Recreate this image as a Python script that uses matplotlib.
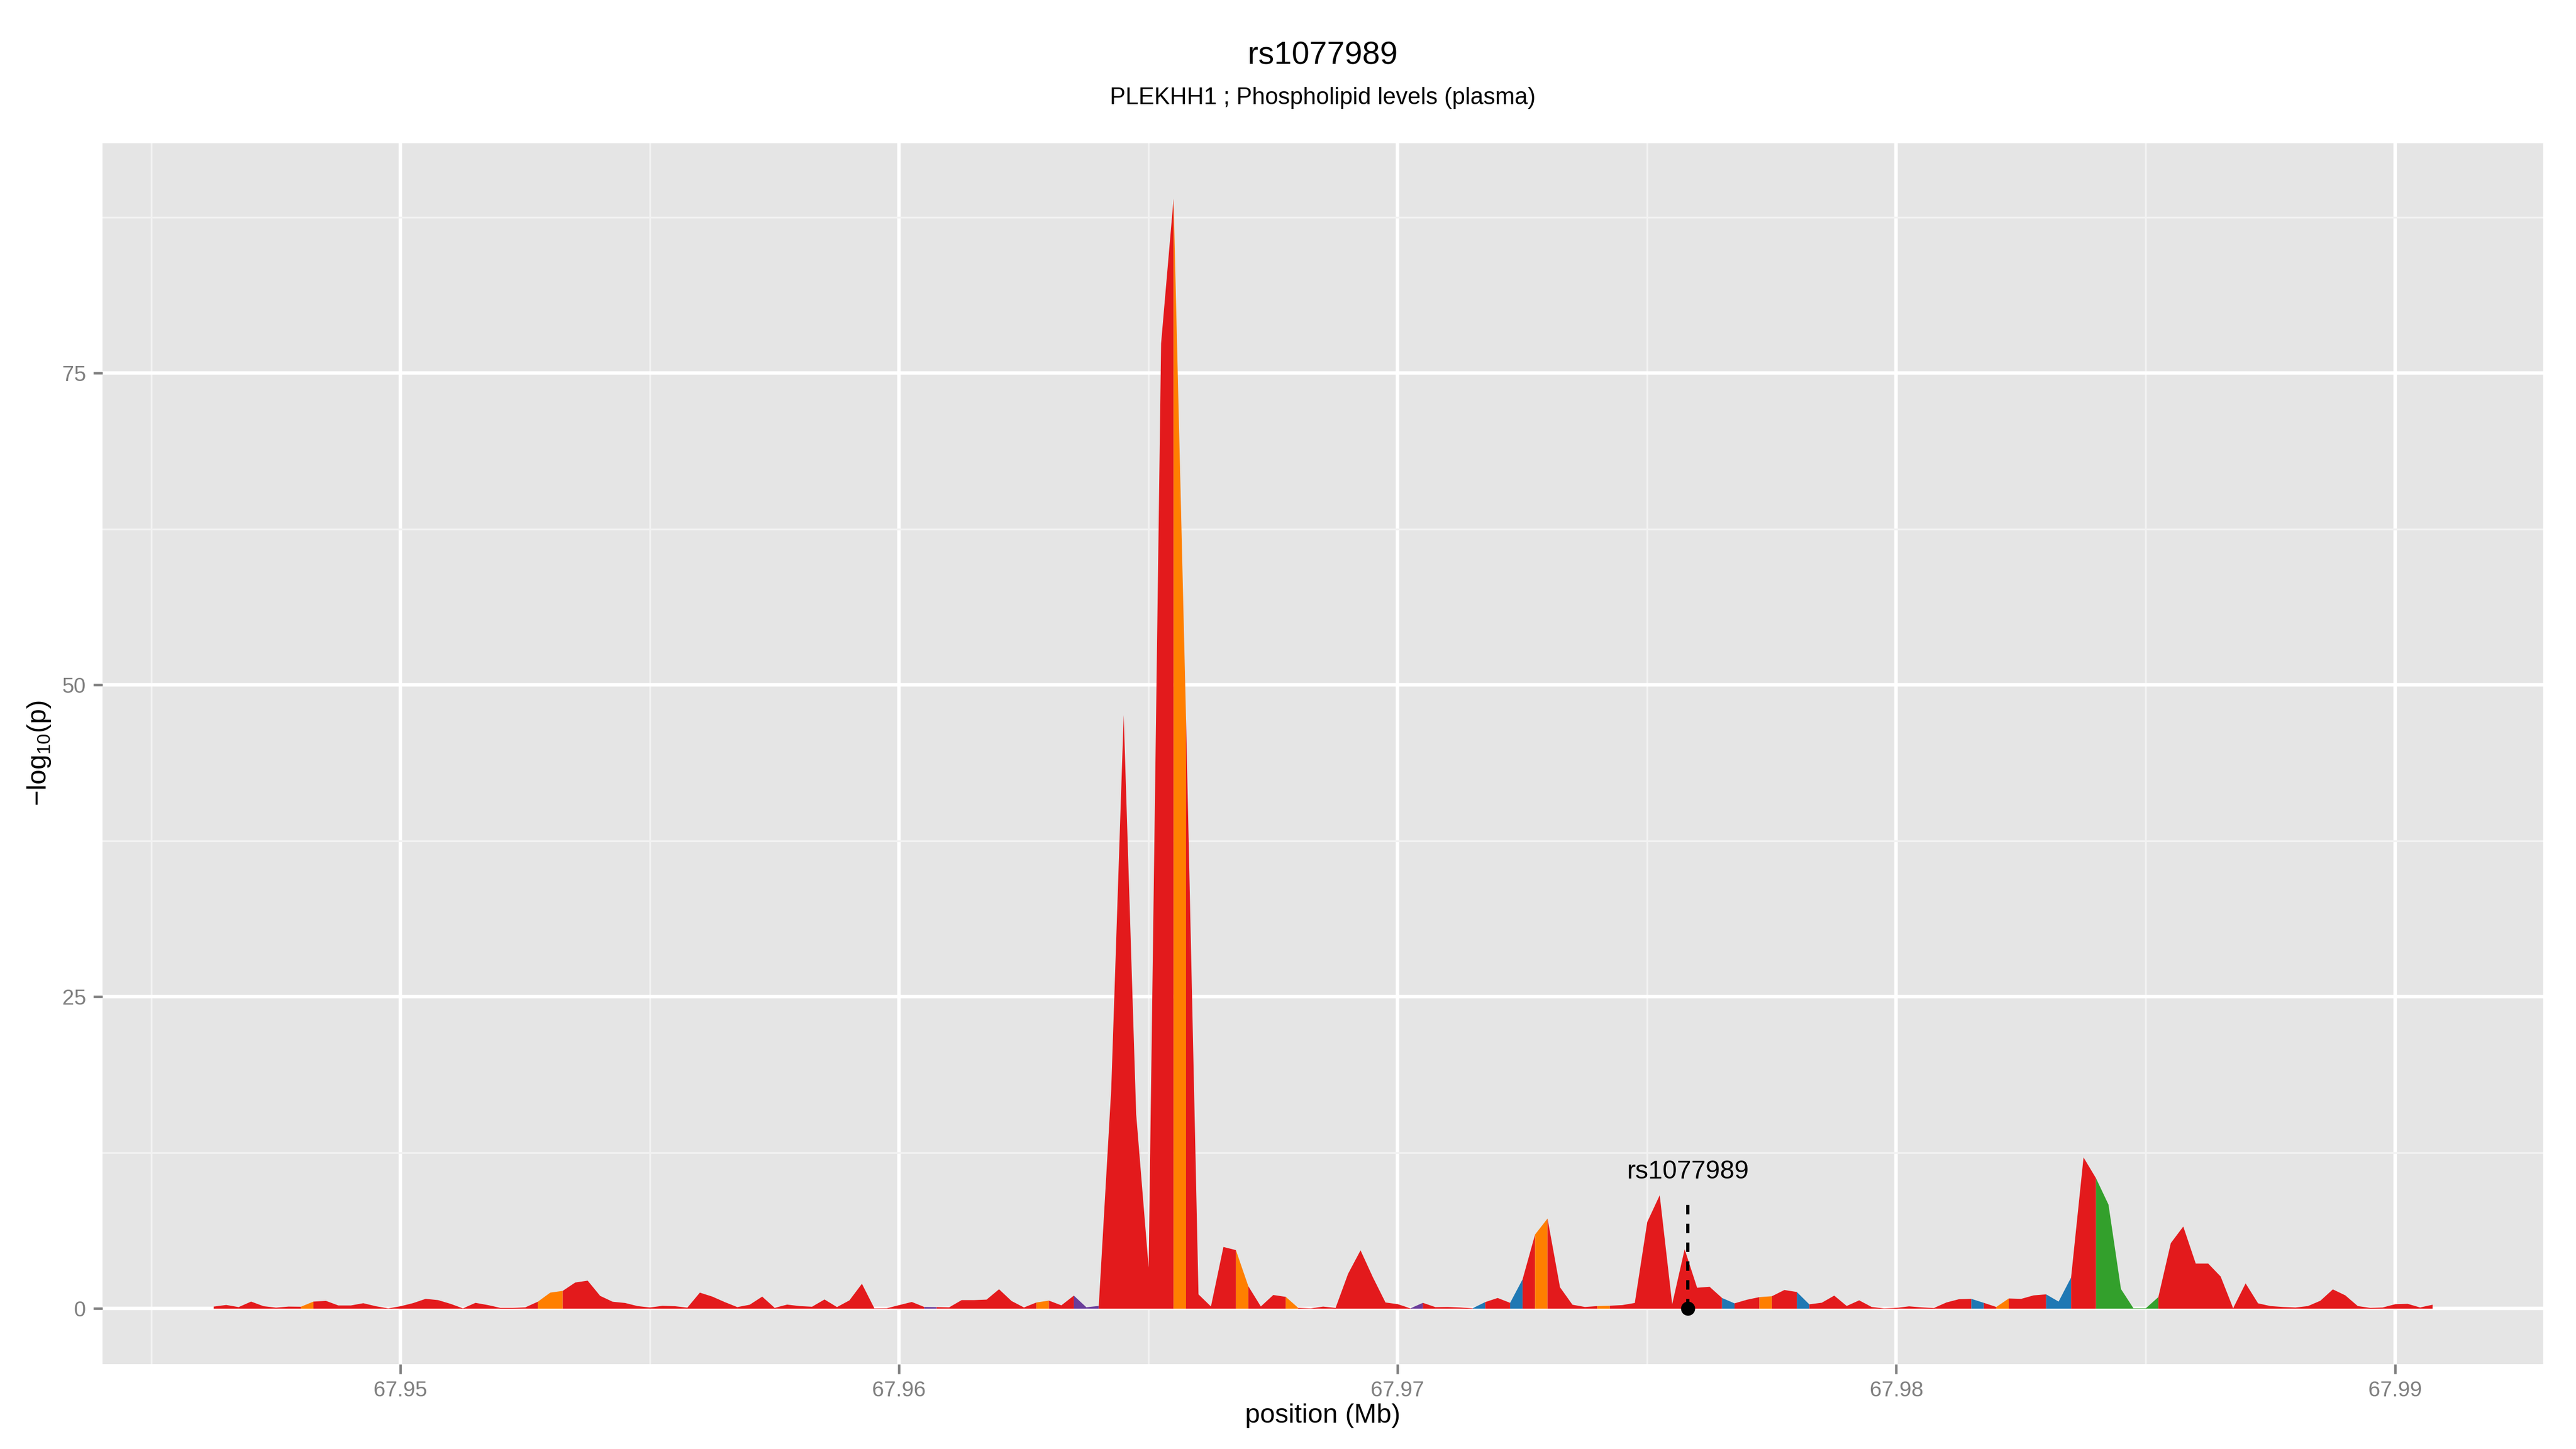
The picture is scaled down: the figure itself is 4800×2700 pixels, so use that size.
import numpy as np
import matplotlib
matplotlib.use('Agg')
import matplotlib.pyplot as plt

plt.rcParams['font.family'] = ['Liberation Sans', 'DejaVu Sans']
plt.rcParams['mathtext.fontset'] = 'custom'
plt.rcParams['mathtext.rm'] = 'Liberation Sans'
plt.rcParams['mathtext.default'] = 'regular'

# SNP positions (Mb), 250 bp apart
pos_mb = [
    67.94625, 67.94650, 67.94675, 67.94700, 67.94725, 67.94750, 67.94775, 67.94800,
    67.94825, 67.94850, 67.94875, 67.94900, 67.94925, 67.94950, 67.94975, 67.95000,
    67.95025, 67.95050, 67.95075, 67.95100, 67.95125, 67.95150, 67.95175, 67.95200,
    67.95225, 67.95250, 67.95275, 67.95300, 67.95325, 67.95350, 67.95375, 67.95400,
    67.95425, 67.95450, 67.95475, 67.95500, 67.95525, 67.95550, 67.95575, 67.95600,
    67.95625, 67.95650, 67.95675, 67.95700, 67.95725, 67.95750, 67.95775, 67.95800,
    67.95825, 67.95850, 67.95875, 67.95900, 67.95925, 67.95950, 67.95975, 67.96000,
    67.96025, 67.96050, 67.96075, 67.96100, 67.96125, 67.96150, 67.96175, 67.96200,
    67.96225, 67.96250, 67.96275, 67.96300, 67.96325, 67.96350, 67.96375, 67.96400,
    67.96425, 67.96450, 67.96475, 67.96500, 67.96525, 67.96550, 67.96575, 67.96600,
    67.96625, 67.96650, 67.96675, 67.96700, 67.96725, 67.96750, 67.96775, 67.96800,
    67.96825, 67.96850, 67.96875, 67.96900, 67.96925, 67.96950, 67.96975, 67.97000,
    67.97025, 67.97050, 67.97075, 67.97100, 67.97125, 67.97150, 67.97175, 67.97200,
    67.97225, 67.97250, 67.97275, 67.97300, 67.97325, 67.97350, 67.97375, 67.97400,
    67.97425, 67.97450, 67.97475, 67.97500, 67.97525, 67.97550, 67.97575, 67.97600,
    67.97625, 67.97650, 67.97675, 67.97700, 67.97725, 67.97750, 67.97775, 67.97800,
    67.97825, 67.97850, 67.97875, 67.97900, 67.97925, 67.97950, 67.97975, 67.98000,
    67.98025, 67.98050, 67.98075, 67.98100, 67.98125, 67.98150, 67.98175, 67.98200,
    67.98225, 67.98250, 67.98275, 67.98300, 67.98325, 67.98350, 67.98375, 67.98400,
    67.98425, 67.98450, 67.98475, 67.98500, 67.98525, 67.98550, 67.98575, 67.98600,
    67.98625, 67.98650, 67.98675, 67.98700, 67.98725, 67.98750, 67.98775, 67.98800,
    67.98825, 67.98850, 67.98875, 67.98900, 67.98925, 67.98950, 67.98975, 67.99000,
    67.99025, 67.99050, 67.99075,
]

logp = [
    0.17, 0.30, 0.13, 0.57, 0.20, 0.09, 0.17, 0.16,
    0.57, 0.63, 0.26, 0.26, 0.44, 0.20, 0.03, 0.20,
    0.45, 0.79, 0.69, 0.39, 0.03, 0.47, 0.29, 0.07,
    0.07, 0.11, 0.56, 1.29, 1.43, 2.10, 2.25, 1.03,
    0.56, 0.46, 0.21, 0.10, 0.23, 0.20, 0.09, 1.29,
    0.97, 0.53, 0.13, 0.32, 0.97, 0.07, 0.33, 0.21,
    0.16, 0.74, 0.13, 0.67, 2.00, 0.03, 0.04, 0.29,
    0.54, 0.14, 0.13, 0.11, 0.69, 0.69, 0.73, 1.56,
    0.62, 0.10, 0.50, 0.65, 0.27, 1.05, 0.12, 0.22,
    17.6, 47.6, 15.6, 3.3, 77.4, 89.0, 47.3, 1.15,
    0.18, 4.95, 4.70, 1.80, 0.18, 1.10, 0.95, 0.07,
    0.03, 0.17, 0.07, 2.80, 4.68, 2.50, 0.50, 0.36,
    0.03, 0.47, 0.13, 0.14, 0.10, 0.04, 0.53, 0.86,
    0.47, 2.36, 5.95, 7.23, 1.72, 0.32, 0.14, 0.21,
    0.24, 0.29, 0.46, 6.95, 9.10, 0.36, 4.77, 1.68,
    1.76, 0.86, 0.43, 0.72, 0.93, 1.00, 1.50, 1.34,
    0.35, 0.48, 1.05, 0.22, 0.67, 0.14, 0.03, 0.07,
    0.19, 0.11, 0.06, 0.50, 0.76, 0.79, 0.47, 0.14,
    0.82, 0.79, 1.07, 1.15, 0.57, 2.50, 12.13, 10.46,
    8.35, 1.58, 0.04, 0.04, 0.93, 5.26, 6.59, 3.62,
    3.62, 2.58, 0.04, 2.03, 0.43, 0.21, 0.14, 0.10,
    0.21, 0.64, 1.55, 1.07, 0.21, 0.07, 0.10, 0.36,
    0.39, 0.10, 0.32,
]

# colour class of the stretch that starts at each SNP, 8 SNPs per group
# r = red, o = orange, b = blue, g = green, p = purple
ld_groups = [
    "rrrrrrro", "rrrrrrrr", "rrrrrrrr", "rroorrrr",
    "rrrrrrrr", "rrrrrrrr", "rrrrrrrr", "rprrrrrr",
    "rrorrppr", "rrrrrorr", "rrorrror", "rrrrrrrr",
    "prrrrbrr", "brorrrro", "rrrrrrrr", "rbrrorrb",
    "rrrrrrrr", "rrrrrbro", "rrrbbrrg", "ggggrrrr",
    "rrrrrrrr", "rrrrrrrr", "rrr",
]

snp_name = "rs1077989"
snp_pos = 67.97582
snp_line_top = 8.87
snp_label_y = 10.4

title = "rs1077989"
subtitle = "PLEKHH1 ; Phospholipid levels (plasma)"
x_ticks = [67.95, 67.96, 67.97, 67.98, 67.99]
x_minor = [67.945, 67.955, 67.965, 67.975, 67.985]
y_ticks = [0, 25, 50, 75]
y_minor = [12.5, 37.5, 62.5, 87.5]

palette = {'r': '#E31A1C', 'o': '#FF7F00', 'b': '#1F78B4',
           'g': '#33A02C', 'p': '#6A3D9A'}

W, H = 4800, 2700
px_l, px_r, px_t, px_b = 191, 4739, 266.5, 2541.5
fig = plt.figure(figsize=(16, 9), dpi=300)
ax = fig.add_axes([px_l / W, 1 - px_b / H, (px_r - px_l) / W, (px_b - px_t) / H])
ax.set_facecolor('#E5E5E5')

pos = np.array(pos_mb)
lp = np.array(logp)
n = len(pos)
cls = "".join(ld_groups)

# join runs of the same colour so no seams show
start = 0
for i in range(1, n):
    if i == n - 1 or cls[i] != cls[start]:
        ax.fill_between(pos[start:i + 1], 0, lp[start:i + 1],
                        color=palette[cls[start]], lw=0, zorder=2)
        start = i

ax.plot([snp_pos, snp_pos], [0, snp_line_top], color='black', lw=1.45,
        ls=(0, (2.9, 2.9)), zorder=3)
ax.plot([snp_pos], [0], 'o', color='black', ms=5.3, zorder=4)
ax.text(snp_pos, snp_label_y, snp_name, ha='center', va='baseline',
        fontsize=11.6, color='black', zorder=5)

span = pos.max() - pos.min()
ax.set_xlim(pos.min() - 0.05 * span, pos.max() + 0.05 * span)
ymax = lp.max()
ax.set_ylim(-0.05 * ymax, ymax * 1.05)

ax.set_xticks(x_ticks)
ax.set_xticklabels(['%.2f' % v for v in x_ticks])
ax.set_xticks(x_minor, minor=True)
ax.set_yticks(y_ticks)
ax.set_yticklabels([str(v) for v in y_ticks])
ax.set_yticks(y_minor, minor=True)

ax.grid(which='major', color='white', lw=1.55)
ax.grid(which='minor', color='#F2F2F2', lw=0.8)
ax.set_axisbelow(True)
for s in ax.spines.values():
    s.set_visible(False)
ax.tick_params(which='major', length=4.2, width=1.1, color='#7F7F7F',
               labelcolor='#7F7F7F', labelsize=9.6, pad=3.2)
ax.tick_params(which='minor', length=0)

cx = (px_l + px_r) / 2 / W
fig.text(cx, 1 - 120 / H, title, ha='center', va='baseline', fontsize=14.2)
fig.text(cx, 1 - 194 / H, subtitle, ha='center', va='baseline', fontsize=10.5)
fig.text(cx, 1 - 2651 / H, 'position (Mb)', ha='center', va='baseline', fontsize=12)
fig.text(73 / W, 1 - (px_t + px_b) / 2 / H, r'$-log_{10}(p)$', rotation=90,
         ha='center', va='center', fontsize=12)

fig.savefig('out.png', dpi=300, facecolor='white')
